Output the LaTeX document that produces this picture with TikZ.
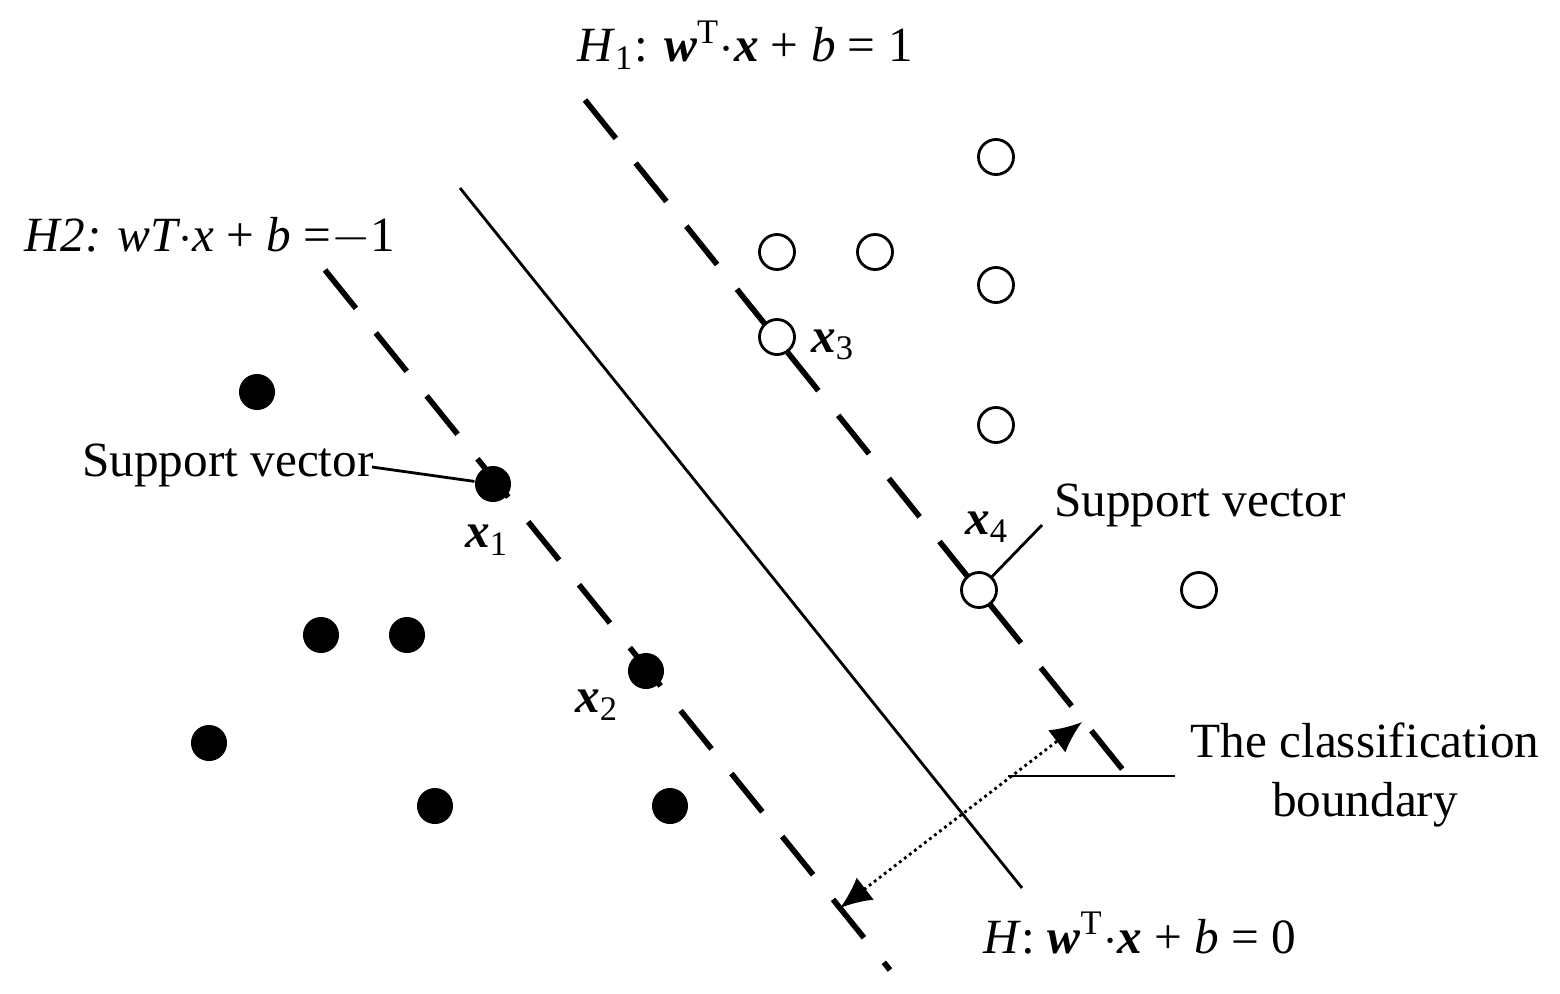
\documentclass[tikz,border=0pt]{standalone}
\usepackage{fontspec}
\setmainfont{Liberation Serif}
\usetikzlibrary{arrows.meta}
\newcommand{\bi}[1]{\textbf{\textit{#1}}}
\begin{document}
\begin{tikzpicture}[x=0.01cm,y=-0.01cm,
  lab/.style={font=\fontsize{14}{17}\selectfont},
  fdot/.style={circle,fill=black,inner sep=0pt,minimum size=0.36cm},
  odot/.style={circle,draw=black,thick,fill=white,inner sep=0pt,minimum size=0.35cm},
  dashline/.style={line width=1.6pt,dash pattern=on 14pt off 9pt}]
\useasboundingbox (0,0) rectangle (1560,993);
\coordinate (h1a) at (585,100); \coordinate (h1b) at (1135,785);
\coordinate (ha) at (460,188); \coordinate (hb) at (1022,888);
\coordinate (h2a) at (325,270); \coordinate (h2b) at (890,970);
\draw[dashline] (h1a) -- (h1b);
\draw[thick] (ha) -- (hb);
\draw[dashline] (h2a) -- (h2b);
\foreach \n/\p in {f1/{(257,392)},f2/{(493,484)},f3/{(321,635)},f4/{(407,635)},f5/{(209,743)},f6/{(646,671)},f7/{(435,806)},f8/{(670,806)}}
  \node[fdot] (\n) at \p {};
\foreach \n/\p in {o1/{(996,157)},o2/{(777,252)},o3/{(875,252)},o4/{(996,285)},o5/{(777,337)},o6/{(996,425)},o7/{(979,590)},o8/{(1199,590)}}
  \node[odot] (\n) at \p {};
\coordinate (m1) at (1082,722); \coordinate (m2) at (840,908);
\draw[densely dotted,thick,{Latex[length=9pt,width=8pt]}-{Latex[length=9pt,width=8pt]}] (m2) -- (m1);
\node[lab] (H1) at (745,45) {\textit{H}\textsubscript{1}: \bi{w}\textsuperscript{T}$\cdot$\bi{x} + \textit{b} = 1};
\node[lab] (H2) at (210,237) {\textit{H2: wT$\cdot$x} + \textit{b} =$-$1};
\node[lab] (H) at (1140,933) {\textit{H}: \bi{w}\textsuperscript{T}$\cdot$\bi{x} + \textit{b} = 0};
\node[lab] at (487,540) {\bi{x}\textsubscript{1}};
\node[lab] at (597,705) {\bi{x}\textsubscript{2}};
\node[lab] at (833,345) {\bi{x}\textsubscript{3}};
\node[lab] at (987,527) {\bi{x}\textsubscript{4}};
\node[lab] (sv1) at (228,465) {Support vector};
\node[lab] (sv2) at (1200,505) {Support vector};
\node[lab,align=center] (cb) at (1365,775) {The classification\\boundary};
\coordinate (sv1e) at (372,467);
\coordinate (sv2e) at (1042,525);
\draw[thick] (sv1e) -- (f2);
\draw[thick] (sv2e) -- (o7);
\coordinate (cbs) at (1008,776); \coordinate (cbe) at (1175,776);
\draw[thick] (cbs) -- (cbe);
\end{tikzpicture}
\end{document}
